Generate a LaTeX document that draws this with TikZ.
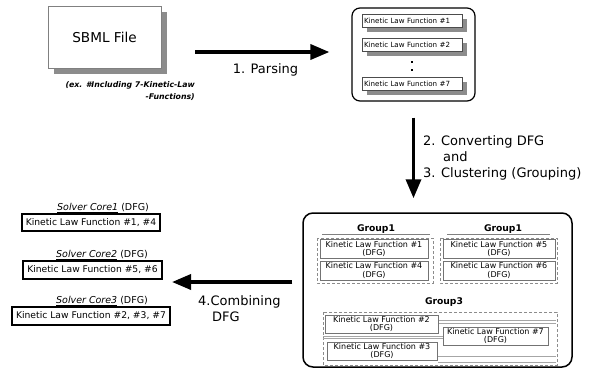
\documentclass[tikz,border=0pt]{standalone}
\usepackage{fontspec}
\setmainfont{DejaVu Sans}
\usepackage{xcolor}
\usepackage{tikz}
\usetikzlibrary{positioning,calc,shadows,arrows.meta}
\definecolor{ShadeGray}{RGB}{140,140,140}

\begin{document}
\begin{tikzpicture}[x=1pt,y=-1pt]
        \useasboundingbox (0,0) rectangle (592,376);

        % Style cho các ô
        \tikzstyle{kfbox} = [
            draw=black!70, thin, fill=white,
            minimum width=100, minimum height=13,
            text width=96, align=left, inner sep=1.5pt,
            font=\fontsize{7.1}{7.5}\selectfont,
            drop shadow={shadow xshift=5pt, shadow yshift=-4pt, fill=ShadeGray, opacity=1}
        ]
        \tikzstyle{dfgbox} = [draw=black!55, thin, fill=white, minimum height=19, inner sep=1pt, align=center, font=\fontsize{8}{8.8}\selectfont]
        \tikzstyle{corebox} = [draw=black, line width=1.4pt, minimum height=17, inner sep=2pt, font=\fontsize{9.2}{10}\selectfont]
        \tikzstyle{coretitle} = [anchor=south, inner sep=1pt, font=\fontsize{9.5}{10}\selectfont]
        \tikzstyle{grptitle} = [font=\bfseries\fontsize{9.2}{10}\selectfont]
        \tikzstyle{grpframe} = [draw=black!45, densely dashed, thin]
        \tikzstyle{flow} = [line width=3.5pt, -{Triangle[length=19pt,width=15pt]}]
        \tikzstyle{steplabel} = [font=\fontsize{13}{16}\selectfont, inner sep=0pt]

        % File SBML
        \node[draw=black!50, fill=white, minimum width=113, minimum height=62,
              font=\fontsize{13.6}{15}\selectfont,
              drop shadow={shadow xshift=6pt, shadow yshift=-6pt, fill=ShadeGray, opacity=1}] (sbml) at (104.5,37) {SBML File};
        \node[anchor=north east, align=right, inner sep=0pt, font=\bfseries\itshape\fontsize{7.8}{12}\selectfont] (sbmlnote) at (195,81) {(ex. \#Including 7-Kinetic-Law\\-Functions)};

        % Khối các hàm sau khi phân tích
        \node[draw, line width=1.2pt, rounded corners=8pt, minimum width=123, minimum height=93] (parsebox) at (413.5,54.5) {};
        \node[kfbox] (kf1) at (412,21) {Kinetic Law Function \#1};
        \node[kfbox] (kf2) at (412,45) {Kinetic Law Function \#2};
        \node[kfbox] (kf7) at (412,84) {Kinetic Law Function \#7};
        \node[fill, minimum size=2.5, inner sep=0pt] (dot1) at (412,62) {};
        \node[fill, minimum size=2.5, inner sep=0pt] (dot2) at (412,70) {};

        % Khối lớn (các nhóm)
        \node[draw, line width=1.5pt, rounded corners=10pt, minimum width=269, minimum height=154] (bigbox) at (437.5,290) {};

        % Nhóm bên trái
        \node[grptitle] (g1) at (376,229) {Group1};
        \draw[black!50] (322,234) -- (430,234);
        \draw[grpframe] (317,238) rectangle (433,283);
        \node[dfgbox, minimum width=108] (f1) at (374,249) {Kinetic Law Function \#1\\(DFG)};
        \node[dfgbox, minimum width=108] (f4) at (374,270.5) {Kinetic Law Function \#4\\(DFG)};

        % Nhóm bên phải
        \node[grptitle] (g2) at (503,229) {Group1};
        \draw[black!50] (447,234) -- (550,234);
        \draw[grpframe] (440,238) rectangle (557,283);
        \node[dfgbox, minimum width=112] (f5) at (499,249) {Kinetic Law Function \#5\\(DFG)};
        \node[dfgbox, minimum width=112] (f6) at (499,270.5) {Kinetic Law Function \#6\\(DFG)};

        % Nhóm 3
        \node[grptitle] (g3) at (444,302) {Group3};
        \draw[grpframe] (323,312) rectangle (557,365);
        \foreach \yy in {320,323,356,362} {
            \draw[black!35] (438,\yy) -- (556,\yy);
        }
        \foreach \yy in {336,338.5} {
            \draw[black!35] (323,\yy) -- (443,\yy);
        }
        \node[dfgbox, minimum width=113, minimum height=18] (f2) at (381.5,324) {Kinetic Law Function \#2\\(DFG)};
        \node[dfgbox, minimum width=110, minimum height=18] (f3) at (382,351) {Kinetic Law Function \#3\\(DFG)};
        \node[dfgbox, minimum width=105, minimum height=18] (f7) at (495.5,336) {Kinetic Law Function \#7\\(DFG)};

        % Mũi tên và nhãn
        \coordinate (parsefrom) at (195,52);
        \draw[flow, shorten >=22pt] (parsefrom) -- (parsebox.west |- parsefrom);
        \node[steplabel] (parselbl) at (265.5,70) {1. Parsing};

        \draw[flow, shorten <=16pt, shorten >=14pt] (parsebox.south) -- (parsebox.south |- bigbox.north);
        \node[steplabel, anchor=north west, align=left] (convlbl) at (423,135) {2. Converting DFG\\\hspace*{20pt}and\\3. Clustering (Grouping)};

        \coordinate (combtip) at (172,282);
        \draw[flow, shorten <=10pt] (bigbox.west |- combtip) -- (combtip);
        \node[steplabel, anchor=north west, align=left] (comblbl) at (198,295) {4.Combining\\\hspace*{14pt}DFG};

        % Các lõi giải
        \node[corebox, minimum width=138] (core1) at (91,222.5) {Kinetic Law Function \#1, \#4};
        \node[corebox, minimum width=139, minimum height=18] (core2) at (92.5,270) {Kinetic Law Function \#5, \#6};
        \node[corebox, minimum width=158, minimum height=18] (core3) at (91,316) {Kinetic Law Function \#2, \#3, \#7};
        \node[coretitle] (core1t) at (103,214) {\underline{\textit{Solver Core1}} (DFG)};
        \node[coretitle] (core2t) at (102,261) {\underline{\textit{Solver Core2}} (DFG)};
        \node[coretitle] (core3t) at (102,307) {\underline{\textit{Solver Core3}} (DFG)};
    \end{tikzpicture}
\end{document}
